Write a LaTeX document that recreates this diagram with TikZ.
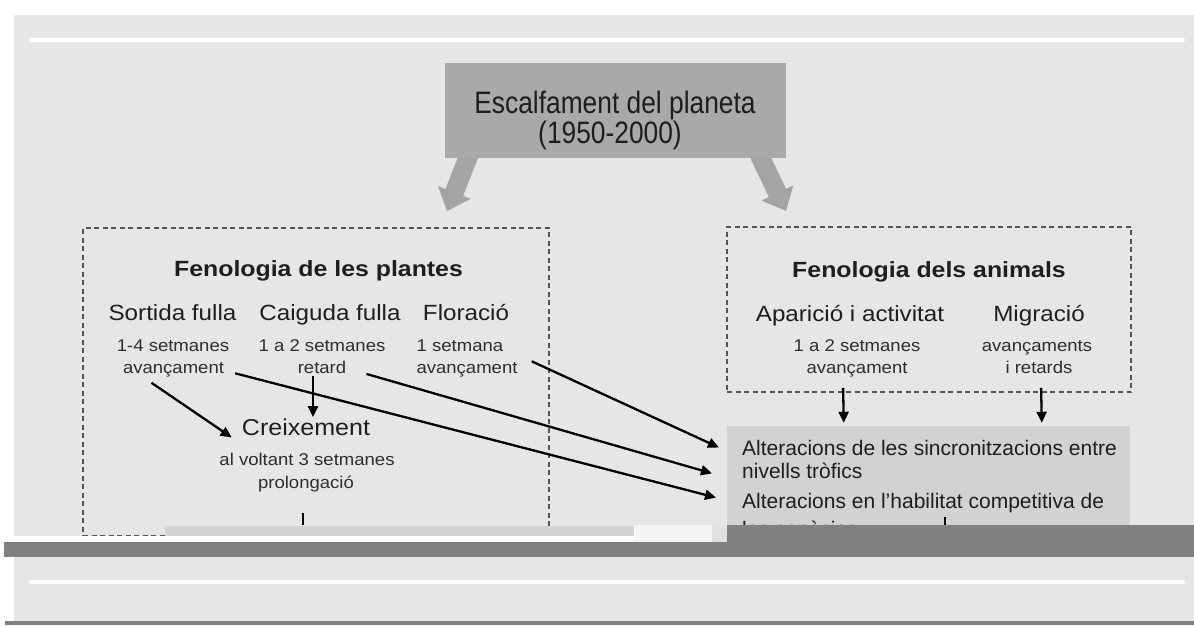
\documentclass[tikz,border=0pt]{standalone}
\usepackage{fontspec}
\setmainfont{Liberation Sans}
\usetikzlibrary{arrows.meta,calc}
\definecolor{bgc}{HTML}{E6E6E6}
\definecolor{tboxc}{HTML}{A9A9A9}
\definecolor{barrowc}{HTML}{A4A4A4}
\definecolor{altc}{HTML}{D2D2D2}
\definecolor{darkc}{HTML}{808080}
\definecolor{bandc}{HTML}{D4D4D4}
\definecolor{txtc}{HTML}{1E1E1E}
\definecolor{subc}{HTML}{2E2E2E}
\definecolor{dashc}{HTML}{555555}
\begin{document}
\begin{tikzpicture}[x=1pt,y=-1pt,
  txt/.style={inner sep=0pt, anchor=base, text=txtc},
  ttl/.style={txt, font=\fontsize{31}{34}\selectfont, xscale=0.85},
  hd/.style={txt, font=\bfseries\fontsize{22}{24}\selectfont, xscale=1.13},
  itm/.style={txt, font=\fontsize{22}{24}\selectfont, xscale=1.1},
  big/.style={txt, font=\fontsize{23}{24}\selectfont, xscale=1.09},
  sb/.style={txt, font=\fontsize{17}{20}\selectfont, xscale=1.09, text=subc},
  alt/.style={inner sep=0pt, anchor=base west, text=txtc, font=\fontsize{21}{24}\selectfont},
  dbox/.style={draw=dashc, line width=1.8pt, dash pattern=on 5pt off 3.5pt, inner sep=0pt},
  conn/.style={draw=black, line width=2.3pt, -{Triangle[length=11pt,width=10pt]}},
  barrow/.style={draw=barrowc, line width=19pt, -{Triangle[length=20pt,width=34pt]}},
  tick/.style={draw=black, line width=2.3pt}
]
\useasboundingbox (0,0) rectangle (1194,625);
% background
\fill[white] (0,0) rectangle (1194,625);
\fill[bgc] (14,15) rectangle (1194,621);
\draw[white, line width=4pt, line cap=round] (31,40) -- (1183,40);

% block arrows from title box
\coordinate (la) at (471,150);
\coordinate (lt) at (447,211);
\coordinate (ra) at (757,150);
\coordinate (rt) at (786,211);
\draw[barrow] (la) -- (lt);
\draw[barrow] (ra) -- (rt);

% title box
\node[fill=tboxc, minimum width=341pt, minimum height=95pt, inner sep=0pt] (title) at (615.5,110.5) {};
\node[ttl] (t1) at (615,113) {Escalfament del planeta};
\node[ttl] (t2) at (610,143) {(1950-2000)};

% dashed boxes
\node[dbox, minimum width=466pt, minimum height=308pt] (pb) at (316,382) {};
\node[dbox, minimum width=404pt, minimum height=165pt] (ab) at (929,309.5) {};

% alteracions box
\node[fill=altc, minimum width=403pt, minimum height=128pt, inner sep=0pt] (altb) at (928.5,490) {};

% plants
\node[hd] (hp) at (318.5,276) {Fenologia de les plantes};
\node[itm] (sf) at (172.5,320) {Sortida fulla};
\node[itm] (cf) at (330,320) {Caiguda fulla};
\node[itm] (fl) at (466,320) {Floració};
\node[sb] (s1a) at (173,351) {1-4 setmanes};
\node[sb] (s1b) at (173.5,373) {avançament};
\node[sb] (s2a) at (322,351) {1 a 2 setmanes};
\node[sb] (s2b) at (322,373) {retard};
\node[sb] (s3a) at (460,351) {1 setmana};
\node[sb] (s3b) at (467,373) {avançament};
\node[big] (cx) at (306,435) {Creixement};
\node[sb] (c1) at (307,465) {al voltant 3 setmanes};
\node[sb] (c2) at (306,488) {prolongació};

% animals
\node[hd] (ha) at (929,277) {Fenologia dels animals};
\node[itm] (ap) at (850,321) {Aparició i activitat};
\node[itm] (mg) at (1039,321) {Migració};
\node[sb] (a1a) at (857,351) {1 a 2 setmanes};
\node[sb] (a1b) at (857,373) {avançament};
\node[sb] (a2a) at (1037,351) {avançaments};
\node[sb] (a2b) at (1039,373) {i retards};

% alteracions text
\node[alt] (al1) at (742,455) {Alteracions de les sincronitzacions entre};
\node[alt] (al2) at (742,478) {nivells tròfics};
\node[alt] (al3) at (742,508) {Alteracions en l'habilitat competitiva de};
\node[alt] (al4) at (742,536) {les espècies};

% connectors
\draw[conn] ($(s1b.south)+(-22,6)$) -- ($(cx.south west)+(-10,2)$);
\draw[conn] ($(s2b.south)+(-9,3)$) -- ($(cx.north)+(7,-1)$);
\draw[conn] ($(s3b.east)+(14,-8)$) -- ($(al1.west)+(-23,0)$);
\draw[conn] ($(s2b.east)+(20,7)$) -- ($(al2.west)+(-30,3)$);
\draw[conn] ($(s1b.east)+(11,4)$) -- ($(al3.west)+(-26,-5)$);
\draw[conn] ($(ab.south west)+(117,-5)$) -- ($(altb.north west)+(117,-3)$);
\draw[conn] ($(ab.south west)+(315,-5)$) -- ($(altb.north west)+(315,-3)$);

% cut-off stubs
\coordinate (k1a) at (303,513);
\coordinate (k1b) at (303,525);
\coordinate (k2a) at (945,517);
\coordinate (k2b) at (945,525);
\draw[tick] (k1a) -- (k1b);
\draw[tick] (k2a) -- (k2b);

% bottom overlays
\fill[bandc] (165,525.5) rectangle (634,535.5);
\fill[white] (14,535.5) rectangle (727,541.5);
\fill[white!96!black] (634,525) rectangle (712,541.5);
\fill[white!88!black] (712,525) rectangle (727,541.5);
\fill[darkc] (4,541.5) rectangle (1194,557);
\fill[darkc] (727,525) rectangle (1194,557);
\draw[white, line width=4pt, line cap=round] (31,582) -- (1183,582);
\fill[darkc] (5,621) rectangle (1194,625);
\end{tikzpicture}
\end{document}
